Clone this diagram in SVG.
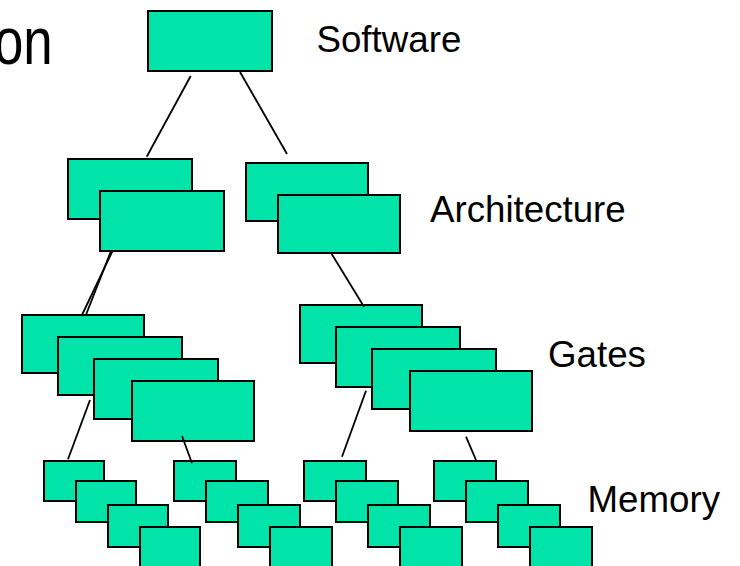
<svg xmlns="http://www.w3.org/2000/svg" width="740" height="566" viewBox="0 0 740 566">
<style>
.n rect{fill:#00E3A9;stroke:#000;stroke-width:2}
.c line{stroke:#000;stroke-width:1.8;fill:none}
.t{font-family:"Liberation Sans",Arial,sans-serif;font-size:36.7px;fill:#000}
</style>
<rect width="740" height="566" fill="#fff"/>
<text class="t" transform="translate(-6,64) scale(0.8,1)" style="font-size:66px">on</text>

<g id="software" class="n"><rect x="148" y="11" width="124" height="60"/></g>

<g id="arch-left" class="n">
<rect x="68" y="159" width="124" height="60"/>
<rect x="100" y="191" width="124" height="60"/>
</g>
<g id="arch-right" class="n">
<rect x="246" y="163" width="122" height="58"/>
<rect x="278" y="195" width="122" height="58"/>
</g>

<g id="gates-left" class="n">
<rect x="22" y="315" width="122" height="58"/>
<rect x="58" y="337" width="124" height="58"/>
<rect x="94" y="359" width="124" height="60"/>
<rect x="132" y="381" width="122" height="60"/>
</g>
<g id="gates-right" class="n">
<rect x="300" y="305" width="122" height="58"/>
<rect x="336" y="327" width="124" height="60"/>
<rect x="372" y="349" width="124" height="60"/>
<rect x="410" y="371" width="122" height="60"/>
</g>

<g id="mem-1" class="n">
<rect x="44" y="461" width="60" height="40"/>
<rect x="76" y="481" width="60" height="41"/>
<rect x="108" y="505" width="60" height="42"/>
<rect x="140" y="527" width="60" height="42"/>
</g>
<g id="mem-2" class="n">
<rect x="174" y="461" width="62" height="40"/>
<rect x="206" y="481" width="62" height="41"/>
<rect x="238" y="505" width="62" height="42"/>
<rect x="270" y="527" width="62" height="42"/>
</g>
<g id="mem-3" class="n">
<rect x="304" y="461" width="62" height="40"/>
<rect x="336" y="481" width="62" height="41"/>
<rect x="368" y="505" width="62" height="42"/>
<rect x="400" y="527" width="62" height="42"/>
</g>
<g id="mem-4" class="n">
<rect x="434" y="461" width="62" height="40"/>
<rect x="466" y="481" width="62" height="41"/>
<rect x="498" y="505" width="62" height="42"/>
<rect x="530" y="527" width="62" height="42"/>
</g>

<g id="connectors" class="c">
<line x1="190.7" y1="76" x2="146.7" y2="156.7"/>
<line x1="240" y1="72" x2="287" y2="154"/>
<line x1="112.5" y1="251" x2="81.5" y2="316"/>
<line x1="111" y1="251" x2="85.5" y2="316"/>
<line x1="331.3" y1="253.3" x2="364" y2="306.7"/>
<line x1="90" y1="400" x2="68" y2="459.3"/>
<line x1="182" y1="436" x2="192" y2="463.3"/>
<line x1="366" y1="390.7" x2="342" y2="456.7"/>
<line x1="466" y1="436.7" x2="476" y2="460"/>
</g>

<g id="labels">
<text class="t" x="316.5" y="52">Software</text>
<text class="t" x="430" y="222">Architecture</text>
<text class="t" x="548" y="366.5">Gates</text>
<text class="t" x="587.5" y="511.7">Memory</text>
</g>
</svg>
